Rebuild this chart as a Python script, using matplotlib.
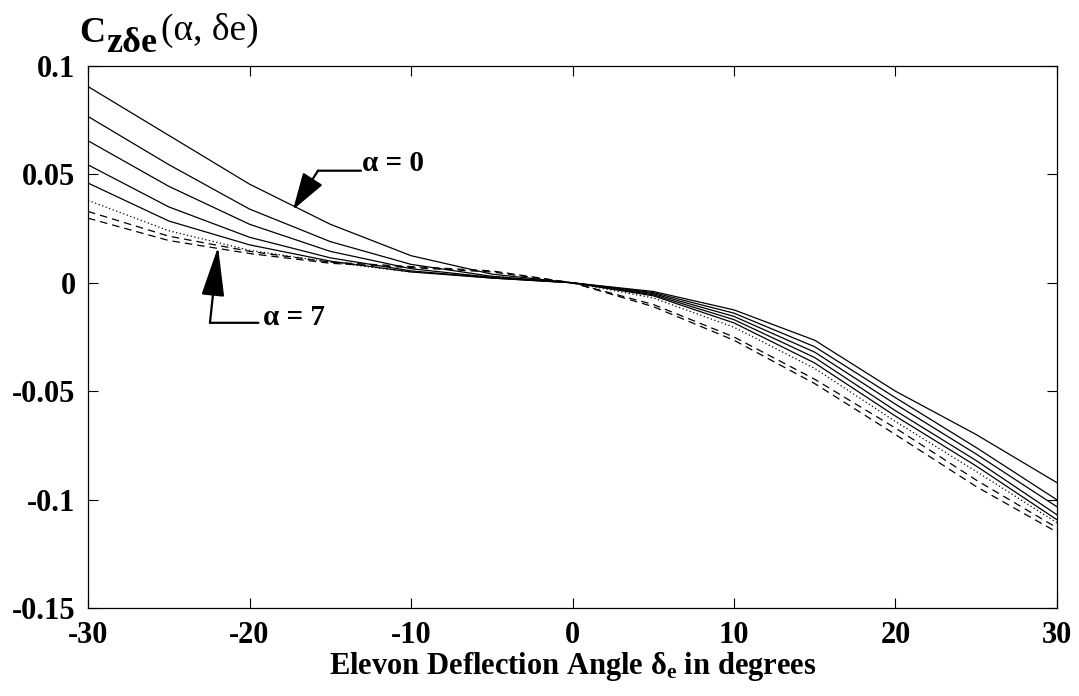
import matplotlib
matplotlib.use("Agg")
import matplotlib.pyplot as plt
import numpy as np

plt.rcParams['font.family'] = ['Liberation Serif', 'DejaVu Serif']
plt.rcParams['mathtext.fontset'] = 'custom'
plt.rcParams['mathtext.rm'] = 'Liberation Serif'
plt.rcParams['mathtext.bf'] = 'Liberation Serif:bold'
plt.rcParams['mathtext.it'] = 'Liberation Serif:bold'
plt.rcParams['axes.unicode_minus'] = False

# ---- data -------------------------------------------------------------
delta_e = [-30, -25, -20, -15, -10, -5, 0, 5, 10, 15, 20, 25, 30]

cz_a0 = [0.0905, 0.0680, 0.0455, 0.0270, 0.0125, 0.0040, 0.0, -0.0040, -0.0125, -0.0265, -0.0500, -0.0700, -0.0922]
cz_a1 = [0.0767, 0.0545, 0.0340, 0.0190, 0.0085, 0.0030, 0.0, -0.0045, -0.0140, -0.0295, -0.0530, -0.0760, -0.1001]
cz_a2 = [0.0655, 0.0445, 0.0270, 0.0145, 0.0065, 0.0025, 0.0, -0.0050, -0.0155, -0.0320, -0.0560, -0.0790, -0.1033]
cz_a3 = [0.0544, 0.0350, 0.0210, 0.0115, 0.0055, 0.0022, 0.0, -0.0055, -0.0170, -0.0345, -0.0590, -0.0820, -0.1070]
cz_a4 = [0.0460, 0.0285, 0.0175, 0.0100, 0.0050, 0.0022, 0.0, -0.0060, -0.0185, -0.0370, -0.0615, -0.0845, -0.1093]
cz_a5 = [0.0380, 0.0240, 0.0150, 0.0095, 0.0050, 0.0030, 0.0, -0.0070, -0.0205, -0.0395, -0.0640, -0.0870, -0.1107]
cz_a6 = [0.0329, 0.0215, 0.0145, 0.0095, 0.0075, 0.0055, 0.0, -0.0100, -0.0250, -0.0445, -0.0670, -0.0910, -0.1130]
cz_a7 = [0.0298, 0.0195, 0.0135, 0.0090, 0.0070, 0.0050, 0.0, -0.0110, -0.0265, -0.0465, -0.0700, -0.0940, -0.1150]

curves = [cz_a0, cz_a1, cz_a2, cz_a3, cz_a4, cz_a5, cz_a6, cz_a7]
styles = ['-', '-', '-', '-', '-', (0, (1, 2)), (0, (6, 4)), (0, (6, 4))]

x_ticks = [-30, -20, -10, 0, 10, 20, 30]
x_ticklabels = ['-30', '-20', '-10', '0', '10', '20', '30']
y_ticks = [-0.15, -0.1, -0.05, 0, 0.05, 0.1]
y_ticklabels = ['-0.15', '-0.1', '-0.05', '0', '0.05', '0.1']

# ---- figure -----------------------------------------------------------
fig = plt.figure(figsize=(10.79, 6.96), dpi=100)
ax = fig.add_axes([0.0816, 0.1264, 0.898, 0.7788])

for ys, ls in zip(curves, styles):
    ax.plot(delta_e, ys, color='black', linestyle=ls, linewidth=0.9)

ax.set_xlim(-30, 30)
ax.set_ylim(-0.15, 0.1)
ax.set_xticks(x_ticks)
ax.set_xticklabels(x_ticklabels)
ax.set_yticks(y_ticks)
ax.set_yticklabels(y_ticklabels)

ax.tick_params(direction='in', length=7, width=0.8, top=True, right=True,
               labelsize=22)
ax.tick_params(axis='x', pad=9.5)
ax.tick_params(axis='y', pad=9)
for lab in ax.get_xticklabels() + ax.get_yticklabels():
    lab.set_fontweight('bold')
for sp in ax.spines.values():
    sp.set_linewidth(0.9)

ax.set_xlabel(r'Elevon Deflection Angle $\mathbf{\delta_e}$ in degrees',
              fontsize=22, fontweight='bold', labelpad=0)

# y-axis title: C_{zδe}(α, δe)
W, H = 1079.0, 696.0
fig.text(79 / W, 1 - 42 / H, 'C', fontsize=26, fontweight='bold',
         ha='left', va='baseline')
fig.text(106 / W, 1 - 52 / H, 'zδe', fontsize=26, fontweight='bold',
         ha='left', va='baseline')
fig.text(161 / W, 1 - 40 / H, '(α, δe)', fontsize=27, fontweight='normal',
         ha='left', va='baseline')

# ---- annotations ------------------------------------------------------
# alpha = 0
ax.annotate('', xy=(-15.76, 0.0517), xytext=(-13.1, 0.0517),
            arrowprops=dict(arrowstyle='-', color='black', lw=1.6,
                            shrinkA=0, shrinkB=0))
ax.annotate('', xy=(-17.31, 0.0337), xytext=(-15.76, 0.0517),
            arrowprops=dict(arrowstyle='-|>,head_length=1.15,head_width=0.36',
                            mutation_scale=20, color='black', lw=1.6,
                            shrinkA=0, shrinkB=0))
ax.text(-13.03, 0.0549, 'α = 0', fontsize=21, fontweight='bold',
        ha='left', va='center')

# alpha = 7
ax.annotate('', xy=(-22.45, -0.01845), xytext=(-19.45, -0.01845),
            arrowprops=dict(arrowstyle='-', color='black', lw=1.6,
                            shrinkA=0, shrinkB=0))
ax.annotate('', xy=(-21.95, 0.0166), xytext=(-22.45, -0.01845),
            arrowprops=dict(arrowstyle='-|>,head_length=1.55,head_width=0.36',
                            mutation_scale=20, color='black', lw=1.6,
                            shrinkA=0, shrinkB=0))
ax.text(-19.16, -0.0161, 'α = 7', fontsize=21, fontweight='bold',
        ha='left', va='center')

fig.savefig('out.png', dpi=100)
